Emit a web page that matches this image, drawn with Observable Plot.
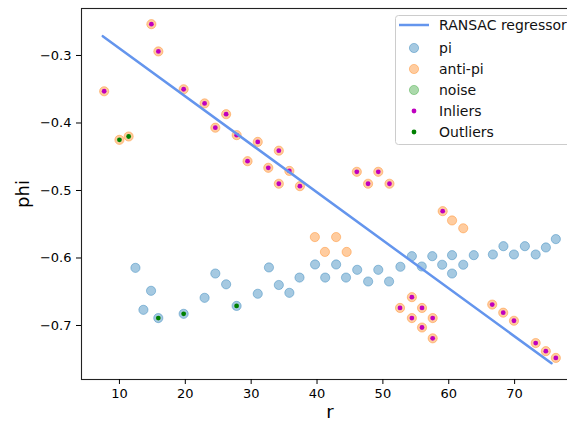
<!DOCTYPE html>
<html><head><meta charset="utf-8">
<script src="https://cdn.jsdelivr.net/npm/d3@7"></script>
<script src="https://cdn.jsdelivr.net/npm/@observablehq/plot@0.6"></script>
<style>
html,body{margin:0;padding:0;background:#fff;overflow:hidden;}
#wrap{position:relative;width:567px;height:422px;overflow:hidden;font-family:"DejaVu Sans",sans-serif;}
#wrap > svg:first-child{max-width:none !important;}
#legend{position:absolute;left:395px;top:15px;}
</style></head><body><div id="wrap"></div>
<script>
// ---- data ----
const piR   = [12.43,13.64,14.8,15.9,19.75,22.93,24.56,26.2,27.79,31.0,32.7,34.2,35.8,37.34,39.7,41.24,42.9,44.4,46.1,47.76,49.3,50.94,52.66,54.4,55.9,57.5,59.0,60.5,60.5,62.2,63.8,66.7,68.3,69.9,71.56,73.2,74.75,76.26];
const piPhi = [-0.6146,-0.6768,-0.6486,-0.689,-0.6827,-0.659,-0.623,-0.639,-0.671,-0.653,-0.614,-0.640,-0.6516,-0.629,-0.6096,-0.629,-0.6096,-0.629,-0.6175,-0.6348,-0.6175,-0.6348,-0.613,-0.5973,-0.6126,-0.5973,-0.610,-0.5958,-0.623,-0.610,-0.5958,-0.5948,-0.5825,-0.5948,-0.5825,-0.5948,-0.5844,-0.572];

const antiR   = [7.68,10.0,11.4,14.85,15.91,19.75,22.93,24.56,26.2,27.8,29.45,31.0,32.6,34.2,34.2,35.8,37.4,39.67,41.2,42.9,44.5,46.04,47.75,49.3,51.0,52.6,54.4,54.4,55.94,55.94,57.56,57.56,59.08,60.5,62.2,66.6,68.27,69.9,73.2,74.74,76.26];
const antiPhi = [-0.353,-0.425,-0.42,-0.2536,-0.294,-0.350,-0.371,-0.407,-0.387,-0.418,-0.4566,-0.428,-0.4664,-0.441,-0.490,-0.471,-0.4936,-0.569,-0.591,-0.569,-0.591,-0.4723,-0.490,-0.4723,-0.490,-0.674,-0.658,-0.689,-0.674,-0.703,-0.689,-0.719,-0.5306,-0.5444,-0.556,-0.669,-0.681,-0.693,-0.726,-0.738,-0.748];

const noiseR = [];
const noisePhi = [];

const inlierR   = [7.68,14.85,15.91,19.75,22.93,24.56,26.2,27.8,29.45,31.0,32.6,34.2,34.2,35.8,37.4,46.04,47.75,49.3,51.0,52.6,54.4,54.4,55.94,55.94,57.56,57.56,59.08,66.6,68.27,69.9,73.2,74.74,76.26];
const inlierPhi = [-0.353,-0.2536,-0.294,-0.350,-0.371,-0.407,-0.387,-0.418,-0.4566,-0.428,-0.4664,-0.441,-0.490,-0.471,-0.4936,-0.4723,-0.490,-0.4723,-0.490,-0.674,-0.658,-0.689,-0.674,-0.703,-0.689,-0.719,-0.5306,-0.669,-0.681,-0.693,-0.726,-0.738,-0.748];

const outlierR   = [10.0,11.4,15.9,19.75,27.79];
const outlierPhi = [-0.425,-0.42,-0.689,-0.6827,-0.671];

const lineR   = [7.47, 75.6];
const linePhi = [-0.2714, -0.756];

const xTicks = [10,20,30,40,50,60,70];
const yTicks = [-0.7,-0.6,-0.5,-0.4,-0.3];
const legendLabels = ["RANSAC regressor","pi","anti-pi","noise","Inliers","Outliers"];

// ---- tables ----
const zip = (a,b) => a.map((v,i) => ({r: v, phi: b[i]}));
const pi = zip(piR, piPhi), anti = zip(antiR, antiPhi), noise = zip(noiseR, noisePhi);
const inl = zip(inlierR, inlierPhi), outl = zip(outlierR, outlierPhi), line = zip(lineR, linePhi);

const C = {pi:"#1f77b4", anti:"#ff7f0e", noise:"#2ca02c", inl:"#bf00bf", outl:"#008000", line:"#6495ed"};
const circ = (data, c) => Plot.dot(data, {x:"r", y:"phi", r:4.6, fill:c, fillOpacity:0.4, stroke:c, strokeOpacity:0.4, strokeWidth:1});

const chart = Plot.plot({
  width: 600, height: 422,
  marginLeft: 81, marginRight: 22, marginTop: 8, marginBottom: 43,
  style: {fontFamily: "DejaVu Sans", fontSize: "13px", color: "black", background: "white", maxWidth: "none"},
  x: {domain: [4.24, 79.7]},
  y: {domain: [-0.78, -0.2304]},
  marks: [
    circ(pi, C.pi),
    circ(anti, C.anti),
    circ(noise, C.noise),
    Plot.dot(inl, {x:"r", y:"phi", r:2.4, fill:C.inl}),
    Plot.dot(outl, {x:"r", y:"phi", r:2.4, fill:C.outl}),
    Plot.line(line, {x:"r", y:"phi", stroke:C.line, strokeWidth:2.5}),
    Plot.frame({stroke:"#222", strokeWidth:1.1}),
    Plot.axisX({ticks: xTicks, tickSize: 5, tickPadding: 4, label: null, fontSize: 13}),
    Plot.axisY({ticks: yTicks, tickSize: 5, tickPadding: 5, tickFormat: d3.format(".1f"), label: null, fontSize: 13}),
    Plot.text(["r"], {frameAnchor: "bottom", dy: 33, fontSize: 18, lineAnchor: "middle", text: d => d}),
    Plot.text(["phi"], {frameAnchor: "left", dx: -58, rotate: -90, fontSize: 18, textAnchor: "middle", lineAnchor: "middle", text: d => d})
  ]
});
chart.style.maxWidth = "none";
chart.style.width = "600px";
chart.style.height = "422px";
const wrap = document.getElementById("wrap");
wrap.appendChild(chart);

// ---- legend ----
const lg = d3.select(wrap).append("svg").attr("id","legend").attr("width",190).attr("height",131)
  .style("font-family","DejaVu Sans").style("font-size","14px");
lg.append("rect").attr("x",0.5).attr("y",0.5).attr("width",188).attr("height",129).attr("rx",3)
  .attr("fill","white").attr("fill-opacity",0.8).attr("stroke","#cccccc");
const rowY = i => i === 0 ? 10 : 33 + (i-1)*21;
legendLabels.forEach((lab, i) => {
  const y = rowY(i);
  if (i === 0) lg.append("line").attr("x1",4).attr("x2",34).attr("y1",y).attr("y2",y).attr("stroke",C.line).attr("stroke-width",2.5);
  else if (i <= 3) {
    const c = [C.pi, C.anti, C.noise][i-1];
    lg.append("circle").attr("cx",19).attr("cy",y).attr("r",4.6).attr("fill",c).attr("fill-opacity",0.4).attr("stroke",c).attr("stroke-opacity",0.4);
  } else {
    lg.append("circle").attr("cx",19).attr("cy",y).attr("r",2.4).attr("fill", i === 4 ? C.inl : C.outl);
  }
  lg.append("text").attr("x",44).attr("y",y).attr("dy","0.36em").attr("fill","#111").text(lab);
});
</script></body></html>
